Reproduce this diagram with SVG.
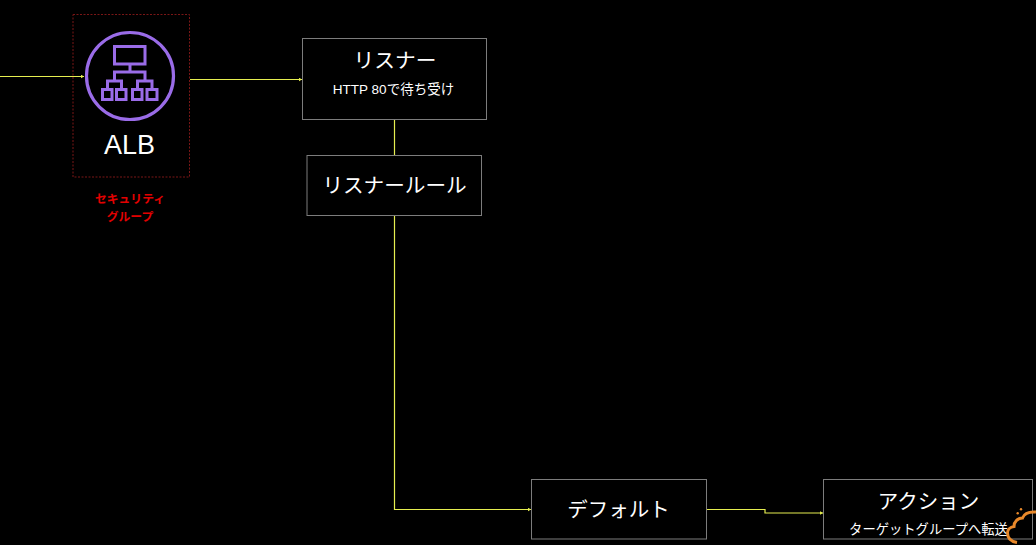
<svg xmlns="http://www.w3.org/2000/svg" width="1036" height="545" viewBox="0 0 1036 545">
<style>
text{font-family:"Liberation Sans","Noto Sans CJK JP",sans-serif;fill:#fff;text-anchor:middle}
.box{fill:#000;stroke:#7c7c7c;stroke-width:1}
.conn{fill:none;stroke:#e6ee50;stroke-width:1.200;marker-end:url(#arrow)}
.line{fill:none;stroke:#e6ee50;stroke-width:1.200}
.ic{fill:none;stroke:#9a6ce8;stroke-width:3}
</style>
<defs>
<marker id="arrow" markerUnits="userSpaceOnUse" markerWidth="4" markerHeight="4" refX="3" refY="2" orient="auto"><path d="M0 0.2L3 2L0 3.800Z" fill="#e6ee50"/></marker>
</defs>
<rect width="1036" height="545" fill="#000"/>
<g id="connectors">
<path class="conn" d="M0 76.500H84"/>
<path class="conn" d="M190 79.500H302"/>
<path class="line" d="M394.500 120V155"/>
<path class="conn" d="M394.500 216V509.500H531"/>
<path class="conn" d="M706 509.500H765V513H823"/>
</g>
<g id="alb">
<rect x="73" y="14.500" width="116.500" height="162.500" fill="none" stroke="#7a1616" stroke-width="1" stroke-dasharray="2 1.500"/>
<circle cx="130" cy="76" r="43.500" fill="none" stroke="#9a6ce8" stroke-width="3.200"/>
<rect class="ic" x="114.500" y="46.500" width="30.500" height="17.500"/>
<path class="ic" d="M130 64V72M114.500 79.500V72H145V79.500M107.500 89.500V81H121.500V89.500M137.500 89.500V81H152V89.500"/>
<rect class="ic" x="102.500" y="89.500" width="9.500" height="10"/>
<rect class="ic" x="116.500" y="89.500" width="9.500" height="10"/>
<rect class="ic" x="132.500" y="89.500" width="9.500" height="10"/>
<rect class="ic" x="147" y="89.500" width="10" height="10"/>
<text x="129.500" y="154" font-size="27">ALB</text>
</g>
<g id="security-group">
<text x="130" y="203" font-size="11.800" font-weight="700" style="fill:#e30000">セキュリティ</text>
<text x="130" y="221" font-size="11.800" font-weight="700" style="fill:#e30000">グループ</text>
</g>
<g id="listener">
<rect class="box" x="302.500" y="38.500" width="184" height="81"/>
<text x="395" y="67.500" font-size="20.700">リスナー</text>
<text x="393.500" y="94" font-size="13.500">HTTP 80で待ち受け</text>
</g>
<g id="listener-rule">
<rect class="box" x="307" y="155.500" width="174.500" height="60"/>
<text x="394.500" y="193" font-size="20.600">リスナールール</text>
</g>
<g id="default">
<rect class="box" x="531.500" y="479.500" width="175" height="59.500"/>
<text x="618.500" y="516.500" font-size="20.500">デフォルト</text>
</g>
<g id="action">
<rect class="box" x="823.500" y="479.500" width="209" height="59.500"/>
<text x="928.500" y="508.500" font-size="20.500">アクション</text>
<text x="928.500" y="534" font-size="13.300">ターゲットグループへ転送</text>
</g>
<g id="cloud">
<path d="M1036 512C1029 511.500 1024 514 1022.500 518C1018 518 1014 521.500 1014 526.500C1010 527 1007.500 530 1007.500 533C1007.500 538 1011 541.500 1017 542.500" fill="none" stroke="#e8882a" stroke-width="3"/>
<circle cx="1021" cy="509.300" r="1.200" fill="#e8882a"/>
<circle cx="1017.700" cy="513.300" r="1.200" fill="#e8882a"/>
</g>
</svg>
